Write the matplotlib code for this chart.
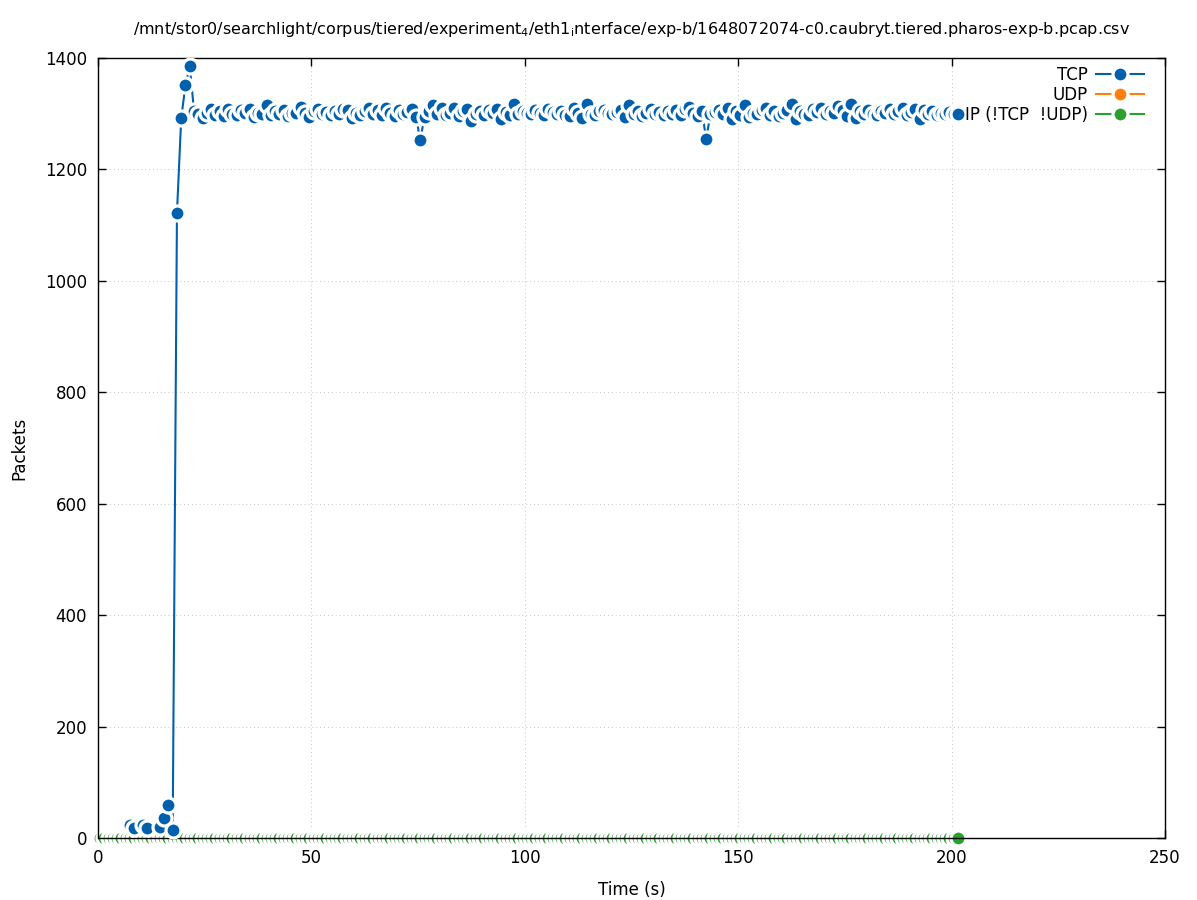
import numpy as np
import matplotlib
matplotlib.use("Agg")
import matplotlib.pyplot as plt

# ------------------------------------------------------------
# Dữ liệu
# ------------------------------------------------------------
TITLE = (r"/mnt/stor0/searchlight/corpus/tiered/experiment$_4$/eth1$_\mathrm{i}$"
         r"nterface/exp-b/1648072074-c0.caubryt.tiered.pharos-exp-b.pcap.csv")

# TCP: giai đoạn khởi động (7.5 s -> 21.5 s)
tcp_time_start = [7.5, 8.5, 10.5, 11.5, 14.5, 15.5, 16.5,
                  17.5, 18.5, 19.5, 20.5, 21.5]
tcp_start = [24, 18, 24, 18, 20, 36, 60,
             15, 1122, 1292, 1352, 1385]

# TCP: giai đoạn ổn định (22.5 s -> 201.5 s, mỗi giây một điểm)
tcp_steady = [
    1305, 1300, 1293, 1302, 1308, 1298, 1304, 1296, 1309, 1300,
    1297, 1306, 1301, 1308, 1295, 1302, 1299, 1315, 1298, 1304,
    1300, 1307, 1296, 1302, 1302, 1312, 1301, 1295, 1304, 1308,
    1300, 1303, 1297, 1305, 1299, 1309, 1306, 1292, 1302, 1297,
    1304, 1310, 1300, 1306, 1298, 1311, 1301, 1296, 1307, 1300,
    1303, 1308, 1295, 1253, 1294, 1305, 1316, 1300, 1310, 1297,
    1302, 1311, 1296, 1305, 1309, 1287, 1299, 1304, 1298, 1306,
    1301, 1309, 1291, 1303, 1298, 1318, 1300, 1305, 1302, 1299,
    1306, 1301, 1297, 1308, 1303, 1300, 1305, 1298, 1296, 1310,
    1302, 1292, 1318, 1300, 1298, 1304, 1307, 1301, 1299, 1303,
    1306, 1294, 1316, 1300, 1305, 1296, 1302, 1308, 1299, 1303,
    1297, 1305, 1300, 1306, 1298, 1309, 1312, 1301, 1296, 1304,
    1255, 1299, 1303, 1307, 1300, 1310, 1290, 1305, 1298, 1316,
    1295, 1302, 1300, 1306, 1310, 1298, 1304, 1296, 1301, 1306,
    1318, 1291, 1305, 1300, 1297, 1308, 1303, 1311, 1299, 1305,
    1301, 1314, 1306, 1296, 1318, 1292, 1304, 1299, 1307, 1300,
    1297, 1305, 1302, 1308, 1300, 1304, 1310, 1298, 1303, 1309,
    1290, 1306, 1300, 1304, 1298, 1302, 1300, 1303, 1299, 1300,
]
tcp_time = tcp_time_start + [22.5 + i for i in range(len(tcp_steady))]
tcp_packets = tcp_start + tcp_steady

# UDP: không có gói nào (chỉ xuất hiện trong legend)
udp_time = []
udp_packets = []

# IP (!TCP && !UDP): toàn bộ bằng 0
ip_time = [0.5 + i for i in range(202)]
ip_packets = [0] * len(ip_time)

X_TICKS = [0, 50, 100, 150, 200, 250]
Y_TICKS = [0, 200, 400, 600, 800, 1000, 1200, 1400]

C_TCP = "#0060ad"
C_UDP = "#ff7f0e"
C_IP = "#2ca02c"

# ------------------------------------------------------------
# Vẽ
# ------------------------------------------------------------
plt.rcParams["font.family"] = ["DejaVu Sans"]
plt.rcParams["mathtext.default"] = "regular"

fig = plt.figure(figsize=(11.97, 9.0), dpi=100)
ax = fig.add_axes([98 / 1197, 1 - 838 / 900, (1165 - 98) / 1197, (838 - 58) / 900])

# viền trắng dày quanh marker -> hiệu ứng "lưỡi liềm" như gnuplot
style = dict(marker="o", markersize=10.8, markeredgecolor="white",
             markeredgewidth=2.3, linewidth=1.5)

ax.plot(tcp_time, tcp_packets, color=C_TCP, markerfacecolor=C_TCP,
        label="TCP", zorder=3, **style)
ax.plot(udp_time, udp_packets, color=C_UDP, markerfacecolor=C_UDP,
        label="UDP", zorder=3, **style)
ax.plot(ip_time, ip_packets, color=C_IP, markerfacecolor=C_IP,
        label="IP (!TCP  !UDP)", zorder=2, clip_on=False, **style)

ax.set_xlim(0, 250)
ax.set_ylim(0, 1400)
ax.set_xticks(X_TICKS)
ax.set_yticks(Y_TICKS)
ax.tick_params(direction="in", length=6, width=1, top=True, right=True,
               labelsize=12, pad=8)
ax.grid(True, color="#c4c4c4", linestyle=(0, (1, 3)), linewidth=0.7)
ax.set_axisbelow(True)
for s in ax.spines.values():
    s.set_linewidth(1)
    s.set_zorder(2.5)

ax.set_xlabel("Time (s)", fontsize=12, labelpad=10)
ax.set_ylabel("Packets", fontsize=12, labelpad=12)
ax.set_title(TITLE, fontsize=11.5, pad=17)

ax.legend(loc="upper right", bbox_to_anchor=(0.990, 1.003), frameon=False,
          markerfirst=False, numpoints=1, handlelength=2.9, handletextpad=0.5,
          labelspacing=0.12, fontsize=12, borderaxespad=0.2)

plt.savefig("out.png", dpi=100)
